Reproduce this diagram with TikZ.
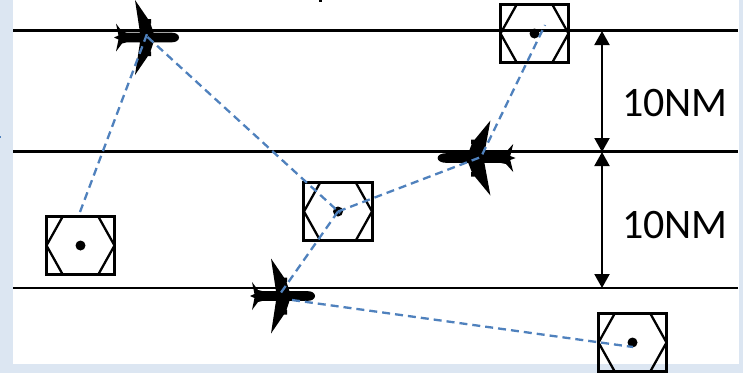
\documentclass[tikz,border=0pt]{standalone}
\usepackage{fontspec}
\setmainfont{Carlito}
\usetikzlibrary{arrows.meta}
\definecolor{pageblue}{HTML}{DCE6F2}
\definecolor{routeblue}{HTML}{4F81BD}
\tikzset{
  flight/.style={line width=2.2pt,black},
  gap/.style={line width=2pt,black,{Triangle[width=15pt,length=14pt]}-{Triangle[width=15pt,length=14pt]}},
  route/.style={line width=2.3pt,routeblue,dash pattern=on 8pt off 5pt},
  boxstyle/.style={draw=black,line width=2.6pt,minimum width=68.5pt,minimum height=58.5pt,inner sep=0pt,outer sep=0pt},
  hexline/.style={line width=2.3pt,black,line join=miter},
  sep/.style={font=\fontsize{42}{42}\selectfont,inner sep=0pt},
  station/.pic={
    \node[boxstyle] (-box) at (0,0) {};
    \draw[hexline] (-17.5,-29.5) -- (-34,0) -- (-17.5,29.5);
    \draw[hexline] (17.5,-29.5) -- (34,0) -- (17.5,29.5);
    \fill[black] (0,0) circle (5);
  },
  plane/.pic={
    \fill[black] (32,0) .. controls (32,-2.8) and (29,-4.8) .. (25,-4.8)
      -- (6.5,-4.8) -- (3.5,-14) -- (4,-14) -- (4,-18.5) -- (1,-18.5)
      -- (-12,-37.5) -- (-7,-4.8) -- (-20,-4.8) -- (-25,-6)
      -- (-31,-14) -- (-28.5,-2) -- (-33,0) -- (-28.5,2) -- (-31,14) -- (-25,6)
      -- (-20,4.8) -- (-7,4.8) -- (-12,37.5) -- (1,18.5) -- (4,18.5)
      -- (4,14) -- (3.5,14) -- (6.5,4.8) -- (25,4.8)
      .. controls (29,4.8) and (32,2.8) .. (32,0) -- cycle;
    \coordinate (-hub) at (0,0);
  }
}
\begin{document}
\begin{tikzpicture}[x=1pt,y=-1pt]
\useasboundingbox (0,0) rectangle (743,373);
\fill[pageblue] (0,0) rectangle (743,373);
\fill[white] (13,0) rectangle (739,364);
\fill[routeblue] (0,135.5) rectangle (1,138);
\fill[black] (319,0) rectangle (322,1.5);
% flight levels
\coordinate (l1a) at (13,30.5); \coordinate (l1b) at (738,30.5);
\coordinate (l2a) at (13,151.5); \coordinate (l2b) at (738,151.5);
\coordinate (l3a) at (13,288); \coordinate (l3b) at (738,288);
\draw[flight] (l1a) -- (l1b);
\draw[flight] (l2a) -- (l2b);
\draw[flight] (l3a) -- (l3b);
% separation arrows
\coordinate (g1) at (602,31); \coordinate (g2) at (602,152); \coordinate (g3) at (602,288);
\draw[gap] (g1) -- (g2);
\draw[gap] (g2) -- (g3);
\node[sep] (t1) at (675,103) {10NM};
\node[sep] (t2) at (675,225) {10NM};
% stations
\pic (sa) at (80.5,245.5) {station};
\pic (sb) at (338,211.5) {station};
\pic (sc) at (534.5,33.5) {station};
\pic (sd) at (632.5,342.5) {station};
% aircraft
\pic (p1) at (147,37.5) {plane};
\pic[xscale=-1.2] (p2) at (476,158) {plane};
\pic (p3) at (283,296) {plane};
% routes
\coordinate (r1) at (80,212);
\coordinate (r2) at (147,34);
\coordinate (r3) at (147.5,37);
\coordinate (r4) at (340,213);
\coordinate (r5) at (338,211.5);
\coordinate (r6) at (481,157);
\coordinate (r7) at (545,25);
\coordinate (r8) at (280,294);
\coordinate (r9) at (292,300);
\coordinate (r10) at (633,347);
\draw[route] (r1) -- (r2);
\draw[route] (r3) -- (r4);
\draw[route] (r5) -- (r6) -- (r7);
\draw[route] (r5) -- (r8);
\draw[route] (r9) -- (r10);
\end{tikzpicture}
\end{document}
